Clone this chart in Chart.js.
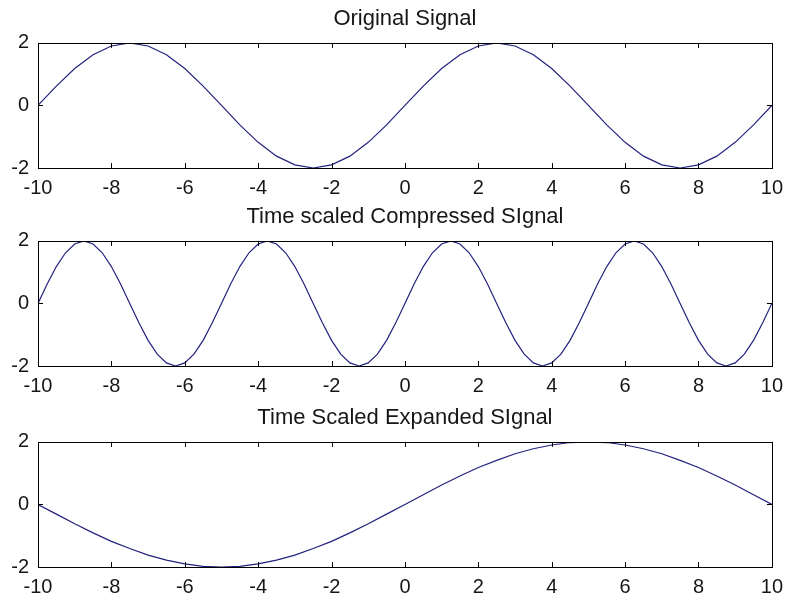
<!DOCTYPE html>
<html>
<head>
<meta charset="utf-8">
<script src="https://cdn.jsdelivr.net/npm/chart.js@4"></script>
<style>
	html, body { margin: 0; padding: 0; background: #fff; }
	body { width: 791px; height: 604px; position: relative; overflow: hidden; }
	.plot { position: absolute; left: 0; width: 791px; height: 200px; }
	canvas { display: block; }
</style>
</head>
<body>
<div class="plot" style="top:0px"><canvas id="origChart" width="791" height="200"></canvas></div>
<div class="plot" style="top:198px"><canvas id="compChart" width="791" height="200"></canvas></div>
<div class="plot" style="top:399px"><canvas id="expChart" width="791" height="200"></canvas></div>
<script>
const titles = ["Original Signal", "Time scaled Compressed SIgnal", "Time Scaled Expanded SIgnal"];
const xTicks = [-10, -8, -6, -4, -2, 0, 2, 4, 6, 8, 10];
const yTicks = [-2, 0, 2];

// sampled every 0.5
const tHalf = [
	-10, -9.5, -9, -8.5, -8, -7.5, -7, -6.5, -6, -5.5, -5, -4.5, -4, -3.5, -3, -2.5, -2, -1.5, -1, -0.5,
	0, 0.5, 1, 1.5, 2, 2.5, 3, 3.5, 4, 4.5, 5, 5.5, 6, 6.5, 7, 7.5, 8, 8.5, 9, 9.5, 10,
];
const origVals = [
	0, 0.62, 1.18, 1.62, 1.9, 2, 1.9, 1.62, 1.18, 0.62, 0, -0.62, -1.18, -1.62, -1.9, -2, -1.9, -1.62, -1.18, -0.62,
	0, 0.62, 1.18, 1.62, 1.9, 2, 1.9, 1.62, 1.18, 0.62, 0, -0.62, -1.18, -1.62, -1.9, -2, -1.9, -1.62, -1.18, -0.62, 0,
];
const expVals = [
	0, -0.31, -0.62, -0.91, -1.18, -1.41, -1.62, -1.78, -1.9, -1.98, -2, -1.98, -1.9, -1.78, -1.62, -1.41, -1.18, -0.91, -0.62, -0.31,
	0, 0.31, 0.62, 0.91, 1.18, 1.41, 1.62, 1.78, 1.9, 1.98, 2, 1.98, 1.9, 1.78, 1.62, 1.41, 1.18, 0.91, 0.62, 0.31, 0,
];

// sampled every 0.25
const tQuarter = [
	-10, -9.75, -9.5, -9.25, -9, -8.75, -8.5, -8.25, -8, -7.75, -7.5, -7.25, -7, -6.75, -6.5, -6.25, -6, -5.75, -5.5, -5.25,
	-5, -4.75, -4.5, -4.25, -4, -3.75, -3.5, -3.25, -3, -2.75, -2.5, -2.25, -2, -1.75, -1.5, -1.25, -1, -0.75, -0.5, -0.25,
	0, 0.25, 0.5, 0.75, 1, 1.25, 1.5, 1.75, 2, 2.25, 2.5, 2.75, 3, 3.25, 3.5, 3.75, 4, 4.25, 4.5, 4.75,
	5, 5.25, 5.5, 5.75, 6, 6.25, 6.5, 6.75, 7, 7.25, 7.5, 7.75, 8, 8.25, 8.5, 8.75, 9, 9.25, 9.5, 9.75, 10,
];
const compVals = [
	0, 0.62, 1.18, 1.62, 1.9, 2, 1.9, 1.62, 1.18, 0.62, 0, -0.62, -1.18, -1.62, -1.9, -2, -1.9, -1.62, -1.18, -0.62,
	0, 0.62, 1.18, 1.62, 1.9, 2, 1.9, 1.62, 1.18, 0.62, 0, -0.62, -1.18, -1.62, -1.9, -2, -1.9, -1.62, -1.18, -0.62,
	0, 0.62, 1.18, 1.62, 1.9, 2, 1.9, 1.62, 1.18, 0.62, 0, -0.62, -1.18, -1.62, -1.9, -2, -1.9, -1.62, -1.18, -0.62,
	0, 0.62, 1.18, 1.62, 1.9, 2, 1.9, 1.62, 1.18, 0.62, 0, -0.62, -1.18, -1.62, -1.9, -2, -1.9, -1.62, -1.18, -0.62, 0,
];

const FONT = "'Liberation Sans', Arial, Helvetica, sans-serif";
const TEXT = "#161616";
const LINE = "#22227e";

// box around the plot area plus inward ticks on all four sides (matlab style)
const boxPlugin = {
	id: "box",
	afterDraw(chart) {
		const { ctx, chartArea: a, scales } = chart;
		const len = 5;
		ctx.save();
		ctx.strokeStyle = "#000";
		ctx.lineWidth = 1;
		ctx.beginPath();
		xTicks.forEach((v) => {
			const px = Math.round(scales.x.getPixelForValue(v)) + 0.5;
			ctx.moveTo(px, a.bottom);
			ctx.lineTo(px, a.bottom - len);
			ctx.moveTo(px, a.top);
			ctx.lineTo(px, a.top + len);
		});
		yTicks.forEach((v) => {
			const py = Math.round(scales.y.getPixelForValue(v)) + 0.5;
			ctx.moveTo(a.left, py);
			ctx.lineTo(a.left + len, py);
			ctx.moveTo(a.right, py);
			ctx.lineTo(a.right - len, py);
		});
		ctx.stroke();
		ctx.strokeRect(Math.round(a.left) + 0.5, Math.round(a.top) + 0.5, Math.round(a.right - a.left), Math.round(a.bottom - a.top));
		ctx.restore();
	},
};

function makeChart(id, title, xs, ys) {
	const ctx = document.getElementById(id).getContext("2d");
	return new Chart(ctx, {
		type: "line",
		data: {
			datasets: [
				{
					data: xs.map((x, i) => ({ x: x, y: ys[i] })),
					borderColor: LINE,
					borderWidth: 1.2,
					pointRadius: 0,
					tension: 0,
					fill: false,
				},
			],
		},
		options: {
			responsive: false,
			animation: false,
			events: [],
			layout: { padding: { top: 0, left: 0, right: 14, bottom: 0 } },
			plugins: {
				legend: { display: false },
				tooltip: { enabled: false },
				title: {
					display: true,
					fullSize: false,
					text: title,
					color: TEXT,
					font: { family: FONT, size: 22, weight: "normal" },
					padding: { top: 6, bottom: 10.5 },
				},
			},
			scales: {
				x: {
					type: "linear",
					min: -10,
					max: 10,
					afterBuildTicks: (s) => { s.ticks = xTicks.map((v) => ({ value: v })); },
					afterFit: (s) => { s.height = 32; },
					grid: { display: false, drawTicks: false },
					border: { display: false },
					ticks: { color: TEXT, padding: 8, maxRotation: 0, autoSkip: false, font: { family: FONT, size: 20 } },
				},
				y: {
					min: -2,
					max: 2,
					afterBuildTicks: (s) => { s.ticks = yTicks.map((v) => ({ value: v })); },
					afterFit: (s) => { s.width = 38; },
					grid: { display: false, drawTicks: false },
					border: { display: false },
					ticks: { color: TEXT, padding: 9, font: { family: FONT, size: 20 } },
				},
			},
		},
		plugins: [boxPlugin],
	});
}

makeChart("origChart", titles[0], tHalf, origVals);
makeChart("compChart", titles[1], tQuarter, compVals);
makeChart("expChart", titles[2], tHalf, expVals);
</script>
</body>
</html>
